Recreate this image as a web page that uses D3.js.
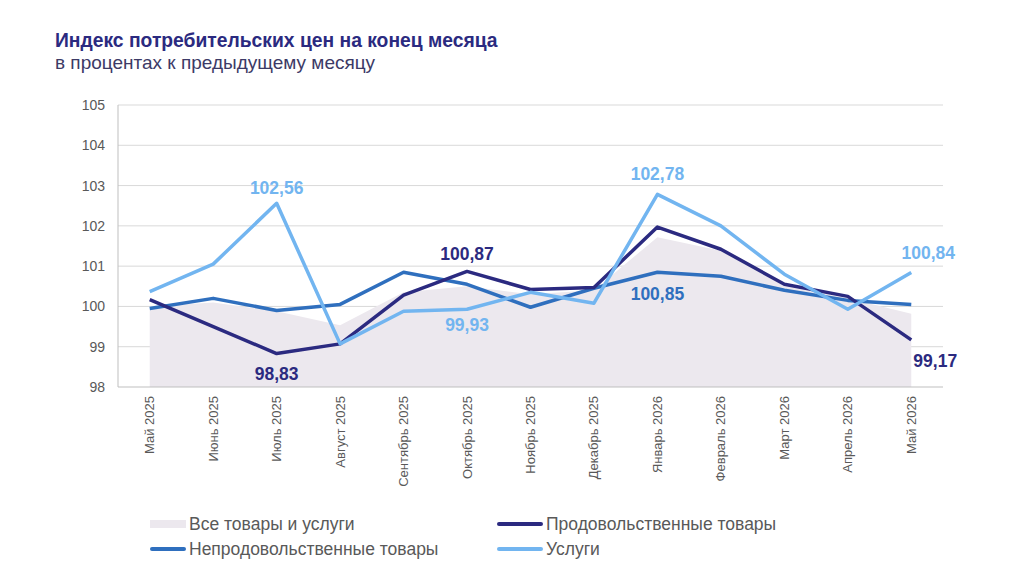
<!DOCTYPE html>
<html>
<head>
<meta charset="utf-8">
<script src="https://cdn.jsdelivr.net/npm/d3@7"></script>
<style>
  body { margin: 0; background: #fff; }
  svg { font-family: "Liberation Sans", Arial, sans-serif; }
</style>
</head>
<body>
<svg id="chart" width="1024" height="579"></svg>
<script>
  var months = ["Май 2025", "Июнь 2025", "Июль 2025", "Август 2025", "Сентябрь 2025", "Октябрь 2025",
    "Ноябрь 2025", "Декабрь 2025", "Январь 2026", "Февраль 2026", "Март 2026", "Апрель 2026", "Май 2026"];
  var allGoods = [100.0, 100.1, 99.88, 99.53, 100.35, 100.5, 100.3, 100.4, 101.72, 101.38, 100.5, 100.2, 99.82];
  var food = [100.17, 99.5, 98.83, 99.07, 100.28, 100.87, 100.42, 100.47, 101.97, 101.42, 100.55, 100.25, 99.17];
  var nonFood = [99.95, 100.2, 99.9, 100.05, 100.85, 100.55, 99.98, 100.45, 100.85, 100.75, 100.4, 100.15, 100.05];
  var services = [100.37, 101.05, 102.56, 99.07, 99.88, 99.93, 100.35, 100.08, 102.78, 102.0, 100.8, 99.93, 100.84];
  var yTicks = [98, 99, 100, 101, 102, 103, 104, 105];

  // подписи значений: индекс месяца, ряд, смещение базовой линии от точки
  var labels = [
    { i: 2, s: "services", dy: -9 },
    { i: 2, s: "food", dy: 26 },
    { i: 5, s: "food", dy: -11 },
    { i: 5, s: "services", dy: 22 },
    { i: 8, s: "services", dy: -14 },
    { i: 8, s: "nonFood", dy: 28 },
    { i: 12, s: "services", dy: -14, dx: 17 },
    { i: 12, s: "food", dy: 27, dx: 24 }
  ];

  var colors = {
    all: "#ece8ee",
    food: "#2b2a80",
    nonFood: "#2f6fbe",
    services: "#72b5f0"
  };
  var seriesData = { food: food, nonFood: nonFood, services: services };

  var svg = d3.select("#chart");
  var margin = { left: 118, right: 943, top: 105, bottom: 387 };

  var x = d3.scaleBand().domain(months).range([margin.left, margin.right]);
  var y = d3.scaleLinear().domain([98, 105]).range([margin.bottom, margin.top]);
  function cx(i) { return x(months[i]) + x.bandwidth() / 2; }

  // заголовок
  svg.append("text").attr("x", 55).attr("y", 47)
    .style("font-size", "19.3px").style("font-weight", "bold").style("fill", "#2b2a80")
    .text("Индекс потребительских цен на конец месяца");
  svg.append("text").attr("x", 55).attr("y", 69)
    .style("font-size", "19px").style("fill", "#3c3a66")
    .text("в процентах к предыдущему месяцу");

  // сетка
  svg.append("g").selectAll("line").data(yTicks.slice(1)).join("line")
    .attr("x1", margin.left).attr("x2", margin.right)
    .attr("y1", function (d) { return y(d); }).attr("y2", function (d) { return y(d); })
    .style("stroke", "#d9d9d9").style("stroke-width", 1);

  // область "все товары"
  var area = d3.area()
    .x(function (d, i) { return cx(i); })
    .y0(y(98)).y1(function (d) { return y(d); });
  svg.append("path").datum(allGoods).attr("d", area).style("fill", colors.all);

  // оси
  svg.append("line").attr("x1", margin.left).attr("x2", margin.left)
    .attr("y1", margin.top).attr("y2", margin.bottom).style("stroke", "#bfbfbf");
  svg.append("line").attr("x1", margin.left).attr("x2", margin.right)
    .attr("y1", margin.bottom).attr("y2", margin.bottom).style("stroke", "#bfbfbf");

  svg.append("g").selectAll("text").data(yTicks).join("text")
    .attr("x", 105).attr("y", function (d) { return y(d) + 5; })
    .attr("text-anchor", "end")
    .style("font-size", "14px").style("fill", "#595959")
    .text(function (d) { return d; });

  svg.append("g").selectAll("text").data(months).join("text")
    .attr("transform", function (d, i) { return "translate(" + (cx(i) + 4.5) + ",396) rotate(-90)"; })
    .attr("text-anchor", "end")
    .style("font-size", "13px").style("fill", "#595959")
    .text(function (d) { return d; });

  // линии
  var line = d3.line()
    .x(function (d, i) { return cx(i); })
    .y(function (d) { return y(d); });
  ["nonFood", "food", "services"].forEach(function (key) {
    svg.append("path").datum(seriesData[key]).attr("d", line)
      .style("fill", "none").style("stroke", colors[key])
      .style("stroke-width", 3.5).style("stroke-linejoin", "round");
  });

  // подписи значений
  svg.append("g").selectAll("text").data(labels).join("text")
    .attr("x", function (d) { return cx(d.i) + (d.dx || 0); })
    .attr("y", function (d) { return y(seriesData[d.s][d.i]) + d.dy; })
    .attr("text-anchor", "middle")
    .style("font-size", "17.5px").style("font-weight", "bold")
    .style("fill", function (d) { return colors[d.s]; })
    .text(function (d) { return seriesData[d.s][d.i].toFixed(2).replace(".", ","); });

  // легенда
  var legend = [
    { name: "Все товары и услуги", key: "all", x: 150, w: 36, y: 524 },
    { name: "Продовольственные товары", key: "food", x: 497, w: 46, y: 524 },
    { name: "Непродовольственные товары", key: "nonFood", x: 150, w: 36, y: 549 },
    { name: "Услуги", key: "services", x: 497, w: 46, y: 549 }
  ];
  var lg = svg.append("g").selectAll("g").data(legend).join("g");
  lg.each(function (d) {
    var g = d3.select(this);
    if (d.key === "all") {
      g.append("rect").attr("x", d.x).attr("y", d.y - 4).attr("width", d.w).attr("height", 8)
        .style("fill", colors.all);
    } else {
      g.append("line").attr("x1", d.x + 2).attr("x2", d.x + d.w - 2)
        .attr("y1", d.y).attr("y2", d.y)
        .style("stroke", colors[d.key]).style("stroke-width", 4).style("stroke-linecap", "round");
    }
    g.append("text").attr("x", d.x + d.w + 3).attr("y", d.y + 6)
      .style("font-size", "17.5px").style("fill", "#595959")
      .text(d.name);
  });
</script>
</body>
</html>
